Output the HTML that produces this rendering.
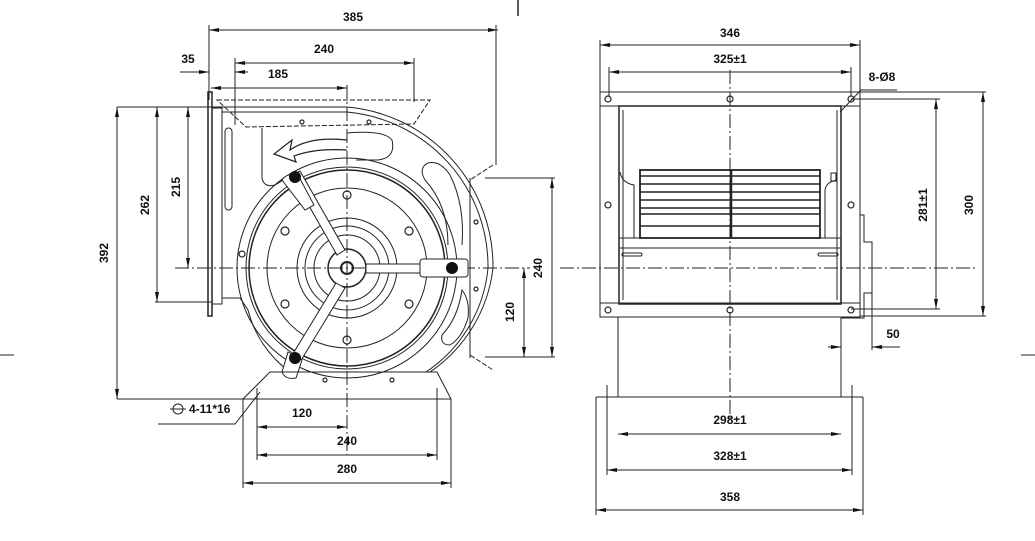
<!DOCTYPE html>
<html><head><style>
html,body{margin:0;padding:0;background:#fff;}
svg{display:block}
text{font-family:"Liberation Sans Narrow","Liberation Sans",sans-serif;font-weight:bold;font-size:12px;fill:#111}
</style></head><body>
<svg width="1035" height="541" viewBox="0 0 1035 541" xmlns="http://www.w3.org/2000/svg">
<defs>
<marker id="a" viewBox="0 0 10 4" refX="10" refY="2" markerWidth="10" markerHeight="4" orient="auto-start-reverse"><path d="M0,0 L10,2 L0,4 z" fill="#111"/></marker>
</defs>
<g stroke="#222" fill="none" stroke-width="1">
<line x1="518" y1="0" x2="518" y2="16" stroke-width="1.5"/>
<line x1="0" y1="355" x2="14" y2="355"/>
<line x1="1021" y1="355" x2="1035" y2="355"/>

<!-- ===== LEFT VIEW ===== -->
<line x1="175" y1="268" x2="530" y2="268" stroke-dasharray="14,3,2,3"/>
<line x1="347" y1="85" x2="347" y2="455" stroke-dasharray="14,3,2,3"/>
<rect x="208" y="92" width="4" height="224" stroke-width="1.5"/>
<rect x="212" y="108" width="10" height="196"/>
<rect x="225" y="128" width="7" height="82" rx="3.5"/>
<path d="M212,107 L347,107 A160,160 0 0 1 493,268 A146,146 0 0 1 430,372"/>
<path d="M222,112 L347,112 A155,155 0 0 1 488,268 A141,141 0 0 1 426,372"/>
<path d="M222,298 L240,298 L248,310 A110,110 0 0 0 290,372"/>
<path d="M217,100 L430,100 L414,124 L246,127 Z" stroke-dasharray="5,2"/>
<path d="M493,165 L470,180 L470,355 L493,370" stroke-dasharray="5,2"/>
<line x1="470" y1="178" x2="470" y2="358"/>
<path d="M262,128 L262,178 Q264,188 275,185 L290,176"/>
<path d="M347,133 Q385,130 392,140 Q396,158 378,160 L356,160"/>
<path d="M448,245 Q448,205 425,180 Q418,168 428,163 Q440,160 450,175 Q465,205 462,245"/>
<path d="M442,335 Q458,318 462,290 Q470,300 468,318 Q462,338 450,345 Q440,345 442,335"/>
<path d="M347,140 Q310,136 290,150 L292,140 L274,154 L296,162 L294,156 Q315,148 347,150" stroke-width="1.2"/>
<circle cx="347" cy="268" r="101"/>
<circle cx="347" cy="268" r="98" stroke-width="1.5"/>
<circle cx="347" cy="268" r="110"/>
<circle cx="347" cy="268" r="80"/>
<circle cx="347" cy="268" r="50"/>
<circle cx="347" cy="268" r="42"/>
<circle cx="347" cy="268" r="33"/>
<circle cx="347" cy="268" r="19" stroke-width="1.5"/>
<circle cx="347" cy="268" r="6" stroke-width="2"/>
<path d="M292,176 L300,171 L345,250 L337,255 Z" fill="#fff"/>
<path d="M282,180 Q288,172 298,175 L314,205 L305,210 Z" fill="#fff"/>
<path d="M366,264 L455,264 L455,273 L366,273 Z" fill="#fff"/>
<rect x="420" y="259" width="48" height="18" rx="3" fill="#fff"/>
<path d="M336,283 L345,288 L300,362 L291,357 Z" fill="#fff"/>
<path d="M288,352 L302,360 L296,378 Q285,380 282,372 Z" fill="#fff"/>
<g fill="#111" stroke="none">
<circle cx="295" cy="177" r="6"/><circle cx="452" cy="268" r="6"/><circle cx="295" cy="358" r="6"/>
</g>
<g stroke-width="1.2">
<circle cx="347" cy="195" r="4"/><circle cx="347" cy="340" r="4"/>
<circle cx="285" cy="231" r="4"/><circle cx="409" cy="231" r="4"/>
<circle cx="285" cy="304" r="4"/><circle cx="409" cy="304" r="4"/>
<circle cx="242" cy="254" r="3"/>
<circle cx="302" cy="122" r="2"/><circle cx="369" cy="122" r="2"/>
<circle cx="476" cy="222" r="2"/><circle cx="476" cy="289" r="2"/>
<circle cx="325" cy="380" r="2"/><circle cx="392" cy="380" r="2"/>
</g>
<path d="M243,399 L270,372 L437,372 L451,399"/>
<line x1="117" y1="399" x2="451" y2="399"/>
<line x1="257" y1="388" x2="257" y2="460"/>
<line x1="437" y1="388" x2="437" y2="460"/>
<line x1="243" y1="399" x2="243" y2="488"/>
<line x1="451" y1="399" x2="451" y2="488"/>
<line x1="209" y1="30" x2="498" y2="30" marker-start="url(#a)" marker-end="url(#a)"/>
<line x1="209" y1="25" x2="209" y2="100"/><line x1="496" y1="25" x2="496" y2="165"/>
<line x1="235" y1="63" x2="414" y2="63" marker-start="url(#a)" marker-end="url(#a)"/>
<line x1="235" y1="58" x2="235" y2="125"/><line x1="414" y1="58" x2="414" y2="102"/>
<line x1="180" y1="72" x2="209" y2="72" marker-end="url(#a)"/>
<line x1="235" y1="72" x2="248" y2="72" marker-start="url(#a)"/>
<line x1="211" y1="88" x2="347" y2="88" marker-start="url(#a)" marker-end="url(#a)"/>
<line x1="117" y1="107" x2="212" y2="107"/>
<line x1="117" y1="107" x2="117" y2="399" marker-start="url(#a)" marker-end="url(#a)"/>
<line x1="155" y1="302" x2="212" y2="302"/>
<line x1="157" y1="107" x2="157" y2="302" marker-start="url(#a)" marker-end="url(#a)"/>
<line x1="188" y1="107" x2="188" y2="268" marker-start="url(#a)" marker-end="url(#a)"/>
<line x1="485" y1="178" x2="555" y2="178"/>
<line x1="485" y1="357" x2="555" y2="357"/>
<line x1="552" y1="178" x2="552" y2="357" marker-start="url(#a)" marker-end="url(#a)"/>
<line x1="524" y1="268" x2="524" y2="357" marker-start="url(#a)" marker-end="url(#a)"/>
<line x1="257" y1="427" x2="347" y2="427" marker-start="url(#a)" marker-end="url(#a)"/>
<line x1="257" y1="455" x2="437" y2="455" marker-start="url(#a)" marker-end="url(#a)"/>
<line x1="243" y1="483" x2="451" y2="483" marker-start="url(#a)" marker-end="url(#a)"/>
<path d="M158,424 L235,424 L260,392"/>
<circle cx="178" cy="409" r="5"/><line x1="170" y1="409" x2="186" y2="409"/>

<!-- ===== RIGHT VIEW ===== -->
<line x1="560" y1="268" x2="975" y2="268" stroke-dasharray="14,3,2,3"/>
<line x1="730" y1="70" x2="730" y2="420" stroke-dasharray="14,3,2,3"/>
<rect x="600" y="92" width="260" height="225"/>
<line x1="600" y1="106" x2="860" y2="106"/>
<line x1="600" y1="303" x2="860" y2="303"/>
<rect x="619" y="106" width="222" height="198" stroke-width="1.5"/>
<line x1="623" y1="110" x2="623" y2="300"/>
<line x1="837" y1="110" x2="837" y2="300"/>
<rect x="640" y="170" width="180" height="68" stroke-width="1.8"/>
<g stroke-width="1.6">
<line x1="640" y1="176" x2="820" y2="176"/><line x1="640" y1="184" x2="820" y2="184"/>
<line x1="640" y1="192" x2="820" y2="192"/><line x1="640" y1="200" x2="820" y2="200"/>
<line x1="640" y1="208" x2="820" y2="208"/><line x1="640" y1="214" x2="820" y2="214"/>
<line x1="640" y1="226" x2="820" y2="226"/>
</g>
<line x1="731" y1="170" x2="731" y2="238" stroke-width="2.5"/>
<path d="M620,172 Q622,183 634,185 L634,238"/>
<path d="M837,180 Q826,182 825,190 L825,238"/>
<rect x="831" y="173" width="5" height="8"/>
<rect x="619" y="238" width="222" height="10"/>
<rect x="622" y="253" width="20" height="3" rx="1.5"/><rect x="818" y="253" width="20" height="3" rx="1.5"/>
<g stroke-width="1.2">
<circle cx="608" cy="99" r="3"/><circle cx="730" cy="99" r="3"/><circle cx="851" cy="99" r="3"/>
<circle cx="608" cy="205" r="3"/><circle cx="851" cy="205" r="3"/>
<circle cx="608" cy="310" r="3"/><circle cx="730" cy="310" r="3"/><circle cx="851" cy="310" r="3"/>
</g>
<path d="M860,215 L864,215 L864,242 L872,242 L872,293 L864,293 L864,318 L841,318"/>
<line x1="618" y1="317" x2="618" y2="397"/>
<line x1="841" y1="317" x2="841" y2="397"/>
<path d="M596,397 L618,397 L618,373 M841,373 L841,397 L863,397"/>
<line x1="618" y1="397" x2="841" y2="397"/>
<line x1="596" y1="397" x2="596" y2="515"/><line x1="863" y1="397" x2="863" y2="515"/>
<line x1="607" y1="385" x2="607" y2="475"/><line x1="852" y1="385" x2="852" y2="475"/>
<line x1="600" y1="45" x2="860" y2="45" marker-start="url(#a)" marker-end="url(#a)"/>
<line x1="600" y1="40" x2="600" y2="92"/><line x1="860" y1="40" x2="860" y2="92"/>
<line x1="609" y1="72" x2="851" y2="72" marker-start="url(#a)" marker-end="url(#a)"/>
<line x1="609" y1="67" x2="609" y2="96"/><line x1="851" y1="67" x2="851" y2="96"/>
<path d="M840,112 L861,90 L897,90"/>
<line x1="860" y1="92" x2="986" y2="92"/><line x1="860" y1="316" x2="986" y2="316"/>
<line x1="983" y1="92" x2="983" y2="316" marker-start="url(#a)" marker-end="url(#a)"/>
<line x1="851" y1="99" x2="940" y2="99"/><line x1="851" y1="309" x2="940" y2="309"/>
<line x1="936" y1="99" x2="936" y2="309" marker-start="url(#a)" marker-end="url(#a)"/>
<line x1="872" y1="293" x2="872" y2="350"/>
<line x1="828" y1="347" x2="841" y2="347" marker-end="url(#a)"/>
<line x1="872" y1="347" x2="900" y2="347" marker-start="url(#a)"/>
<line x1="618" y1="434" x2="841" y2="434" marker-start="url(#a)" marker-end="url(#a)"/>
<line x1="607" y1="470" x2="852" y2="470" marker-start="url(#a)" marker-end="url(#a)"/>
<line x1="596" y1="510" x2="863" y2="510" marker-start="url(#a)" marker-end="url(#a)"/>
</g>
<text x="353" y="21" text-anchor="middle">385</text>
<text x="324" y="53" text-anchor="middle">240</text>
<text x="278" y="78" text-anchor="middle">185</text>
<text x="188" y="63" text-anchor="middle">35</text>
<text transform="translate(108,253) rotate(-90)" text-anchor="middle">392</text>
<text transform="translate(149,205) rotate(-90)" text-anchor="middle">262</text>
<text transform="translate(180,187) rotate(-90)" text-anchor="middle">215</text>
<text transform="translate(542,268) rotate(-90)" text-anchor="middle">240</text>
<text transform="translate(514,312) rotate(-90)" text-anchor="middle">120</text>
<text x="302" y="417" text-anchor="middle">120</text>
<text x="347" y="445" text-anchor="middle">240</text>
<text x="347" y="473" text-anchor="middle">280</text>
<text x="189" y="413">4-11*16</text>
<text x="730" y="37" text-anchor="middle">346</text>
<text x="730" y="63" text-anchor="middle">325±1</text>
<text x="882" y="81" text-anchor="middle">8-Ø8</text>
<text transform="translate(927,205) rotate(-90)" text-anchor="middle">281±1</text>
<text transform="translate(973,205) rotate(-90)" text-anchor="middle">300</text>
<text x="893" y="338" text-anchor="middle">50</text>
<text x="730" y="424" text-anchor="middle">298±1</text>
<text x="730" y="460" text-anchor="middle">328±1</text>
<text x="730" y="501" text-anchor="middle">358</text>
</svg>
</body></html>
